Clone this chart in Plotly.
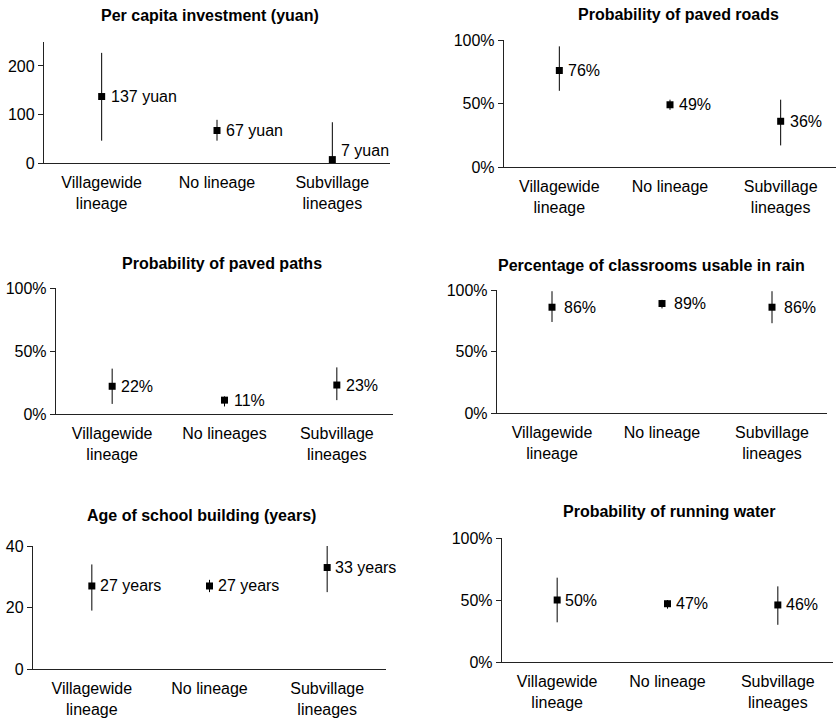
import plotly.graph_objects as go

# ---------------- data ----------------
cats_lineage = ["Villagewide<br>lineage", "No lineage", "Subvillage<br>lineages"]
cats_paths = ["Villagewide<br>lineage", "No lineages", "Subvillage<br>lineages"]

invest_vals = [137, 67, 7]
invest_lo = [46, 46, 0]
invest_hi = [227, 89, 84]

roads_vals = [76, 49, 36]
roads_lo = [60, 45, 17]
roads_hi = [95, 53, 53]

paths_vals = [22, 11, 23]
paths_lo = [8, 6, 11]
paths_hi = [36, 14, 37]

class_vals = [86, 89, 86]
class_lo = [74, 85, 73]
class_hi = [99, 92, 99]

age_vals = [27, 27, 33]
age_lo = [19, 25, 25]
age_hi = [34, 29, 40]

water_vals = [50, 47, 46]
water_lo = [32, 43, 30]
water_hi = [68, 50, 61]

ticks_invest = [0, 100, 200]
ticks_pct = [0, 50, 100]
ticks_age = [0, 20, 40]

titles = [
    "Per capita investment (yuan)",
    "Probability of paved roads",
    "Probability of paved paths",
    "Percentage of classrooms usable in rain",
    "Age of school building (years)",
    "Probability of running water",
]

# ---------------- layout config (window pixels) ----------------
W, H = 837, 718

def px_x(px):
    return px / W

def px_y(py):
    return 1 - py / H

panels = [
    dict(vals=invest_vals, lo=invest_lo, hi=invest_hi, cats=cats_lineage, unit=" yuan", suffix="",
         ymax=250, tick=ticks_invest, box=(44, 390, 41.7, 163), title_xy=(210, 15), xshift=7),
    dict(vals=roads_vals, lo=roads_lo, hi=roads_hi, cats=cats_lineage, unit="%", suffix="%",
         ymax=100, tick=ticks_pct, box=(504, 836, 40, 167), title_xy=(678, 14), xshift=7),
    dict(vals=paths_vals, lo=paths_lo, hi=paths_hi, cats=cats_paths, unit="%", suffix="%",
         ymax=100, tick=ticks_pct, box=(56, 393, 288, 414), title_xy=(222, 263), xshift=7),
    dict(vals=class_vals, lo=class_lo, hi=class_hi, cats=cats_lineage, unit="%", suffix="%",
         ymax=100, tick=ticks_pct, box=(497, 827, 290, 413), title_xy=(651, 265), xshift=10),
    dict(vals=age_vals, lo=age_lo, hi=age_hi, cats=cats_lineage, unit=" years", suffix="",
         ymax=40, tick=ticks_age, box=(33, 386, 546, 669), title_xy=(201, 515), xshift=6),
    dict(vals=water_vals, lo=water_lo, hi=water_hi, cats=cats_lineage, unit="%", suffix="%",
         ymax=100, tick=ticks_pct, box=(502, 833, 538, 662), title_xy=(669, 511), xshift=6),
]
# special vertical label nudges (panel index, point index) -> px
label_yshift = {(0, 2): 9}

FONT = "Liberation Sans, Arial, Helvetica, sans-serif"
TFONT = dict(size=16, color="black", family=FONT)
fig = go.Figure()
annotations = []
layout = {}

for i, p in enumerate(panels):
    n = "" if i == 0 else str(i + 1)
    xa, ya = "x" + n, "y" + n
    x0, x1, yt, yb = p["box"]
    xs = list(range(len(p["vals"])))
    fig.add_trace(go.Scatter(
        x=xs, y=p["vals"], xaxis=xa, yaxis=ya, mode="markers",
        marker=dict(symbol="square", size=7, color="black"),
        error_y=dict(type="data", symmetric=False,
                     array=[h - v for h, v in zip(p["hi"], p["vals"])],
                     arrayminus=[v - l for v, l in zip(p["vals"], p["lo"])],
                     color="black", thickness=1, width=0),
        showlegend=False, cliponaxis=False, hoverinfo="skip",
    ))
    layout["xaxis" + n] = dict(
        domain=[px_x(x0), min(px_x(x1), 1)], anchor=ya, range=[-0.5, 2.5],
        tickmode="array", tickvals=xs, ticktext=p["cats"],
        showline=True, linecolor="#222", linewidth=1.2,
        ticks="outside", ticklen=5, tickcolor="rgba(0,0,0,0)",
        showgrid=False, zeroline=False, automargin=False, fixedrange=True,
        tickfont=TFONT,
    )
    layout["yaxis" + n] = dict(
        domain=[px_y(yb), px_y(yt)], anchor=xa, range=[0, p["ymax"]],
        tickmode="array", tickvals=p["tick"], ticktext=[f"{t}{p['suffix']}" for t in p["tick"]],
        showline=True, linecolor="#222", linewidth=1.2,
        ticks="outside", ticklen=5, tickcolor="#222", showgrid=False, zeroline=False,
        automargin=False, fixedrange=True, tickfont=TFONT,
    )
    for j, v in enumerate(p["vals"]):
        annotations.append(dict(
            x=j, y=v, xref=xa, yref=ya, text=f"{v}{p['unit']}", showarrow=False,
            xanchor="left", yanchor="middle", xshift=p["xshift"],
            yshift=label_yshift.get((i, j), 0), font=TFONT,
        ))
    tx, ty = p["title_xy"]
    annotations.append(dict(
        x=px_x(tx), y=px_y(ty), xref="paper", yref="paper", text=f"<b>{titles[i]}</b>",
        showarrow=False, xanchor="center", yanchor="middle", font=TFONT,
    ))

fig.update_layout(
    template="none",
    width=W, height=H, margin=dict(l=0, r=0, t=0, b=0, pad=0), autosize=False,
    font=TFONT, paper_bgcolor="white", plot_bgcolor="white", hovermode=False,
    annotations=annotations, **layout,
)
fig.write_html(
    "out.html",
    config={"displayModeBar": False, "staticPlot": True},
    post_script="document.body.style.margin='0px';document.body.style.overflow='hidden';",
)
